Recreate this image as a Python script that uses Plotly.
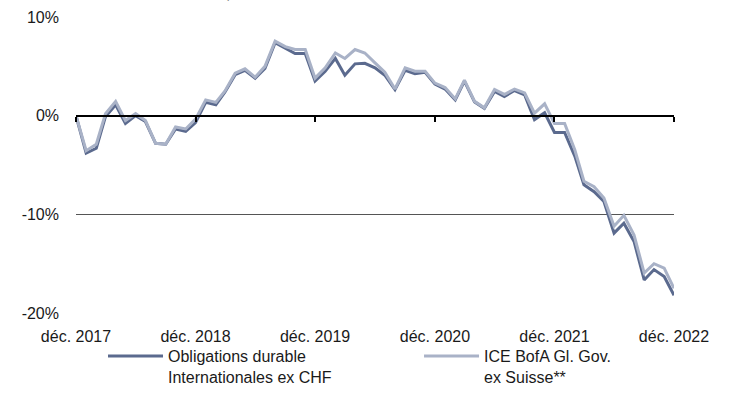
import pandas as pd
import plotly.graph_objects as go

# Monthly observations, Dec 2017 - Dec 2022
months = pd.date_range("2017-12-01", periods=61, freq="MS")

fund_perf = [
    0.0, -3.8, -3.3, -0.1, 1.1, -0.8, 0.0, -0.6, -2.8, -2.9, -1.35, -1.6,
    -0.7, 1.35, 1.1, 2.4, 4.15, 4.6, 3.8, 4.8, 7.4, 6.85, 6.3, 6.3,
    3.5, 4.5, 5.8, 4.1, 5.25, 5.3, 4.85, 4.1, 2.65, 4.6, 4.25, 4.4,
    3.2, 2.7, 1.6, 3.5, 1.4, 0.75, 2.45, 1.95, 2.55, 2.1, -0.4, 0.3,
    -1.7, -1.7, -4.1, -7.0, -7.7, -8.7, -11.9, -10.9, -12.75, -16.65, -15.6, -16.3,
    -18.2,
]
index_perf = [
    0.0, -3.55, -2.9, 0.2, 1.45, -0.5, 0.2, -0.5, -2.8, -2.9, -1.15, -1.35,
    -0.35, 1.6, 1.35, 2.5, 4.3, 4.75, 3.9, 5.0, 7.55, 7.0, 6.7, 6.7,
    3.8, 4.85, 6.35, 5.8, 6.7, 6.35, 5.35, 4.4, 2.7, 4.85, 4.5, 4.5,
    3.3, 2.85, 1.7, 3.6, 1.45, 0.8, 2.65, 2.15, 2.7, 2.3, 0.25, 1.2,
    -0.8, -0.8, -3.45, -6.65, -7.2, -8.35, -11.2, -10.1, -12.1, -15.95, -15.0, -15.45,
    -17.5,
]

fund_name = "Obligations durable<br>Internationales ex CHF"
index_name = "ICE BofA Gl. Gov.<br>ex Suisse**"

tick_dates = [months[i] for i in range(0, 61, 12)]
tick_text = ["déc. 2017", "déc. 2018", "déc. 2019", "déc. 2020", "déc. 2021", "déc. 2022"]
y_ticks = [10, 0, -10, -20]
y_text = ["10%", "0%", "-10%", "-20%"]

FONT = "Liberation Sans, Arial, sans-serif"
DARK = "#5b6a8e"
LIGHT = "#a9b2c7"

fig = go.Figure()
fig.add_trace(go.Scatter(
    x=months, y=fund_perf, name=fund_name, mode="lines",
    line=dict(color=DARK, width=3), legend="legend",
))
fig.add_trace(go.Scatter(
    x=months, y=index_perf, name=index_name, mode="lines",
    line=dict(color=LIGHT, width=3), legend="legend2",
))
# invisible carrier for the zero-line axis with year ticks
fig.add_trace(go.Scatter(
    x=months, y=fund_perf, xaxis="x2", mode="lines",
    line=dict(color="rgba(0,0,0,0)", width=0), showlegend=False, hoverinfo="skip",
))

x_range = [months[0], months[-1]]

legend_style = dict(
    xref="container", yref="container", xanchor="left", yanchor="top",
    y=0.144, valign="top", bgcolor="rgba(0,0,0,0)",
    font=dict(family=FONT, size=16, color="#1a1a1a"),
    itemwidth=55,
)

fig.update_layout(
    width=729, height=396,
    margin=dict(l=76, r=55, t=17, b=83, autoexpand=False),
    paper_bgcolor="white", plot_bgcolor="white",
    font=dict(family=FONT, size=16, color="#1a1a1a"),
    showlegend=True,
    legend=dict(x=0.1413, **legend_style),
    legend2=dict(x=0.5748, **legend_style),
    xaxis=dict(
        range=x_range, tickvals=tick_dates, ticktext=tick_text,
        showgrid=False, zeroline=False, showline=False, ticks="",
        ticklabelstandoff=12,
    ),
    xaxis2=dict(
        range=x_range, overlaying="x", anchor="free", position=2 / 3,
        side="bottom", tickvals=tick_dates, showticklabels=False,
        showgrid=False, zeroline=False, showline=True,
        linecolor="black", linewidth=2,
        ticks="outside", ticklen=5, tickwidth=2, tickcolor="black",
    ),
    yaxis=dict(
        range=[-20, 10], tickvals=y_ticks, ticktext=y_text,
        showgrid=True, gridcolor="#555555", gridwidth=1,
        zeroline=False, showline=False, ticks="",
        ticklabelstandoff=16,
    ),
    annotations=[dict(
        text="Performance cumulée en CHF depuis décembre 2017",
        xref="paper", yref="paper", x=-0.075, y=1, xanchor="left", yanchor="bottom",
        yshift=14, showarrow=False,
        font=dict(family=FONT, size=13, color="#8a8a8a"),
    )],
)

fig.write_html("out.html")
